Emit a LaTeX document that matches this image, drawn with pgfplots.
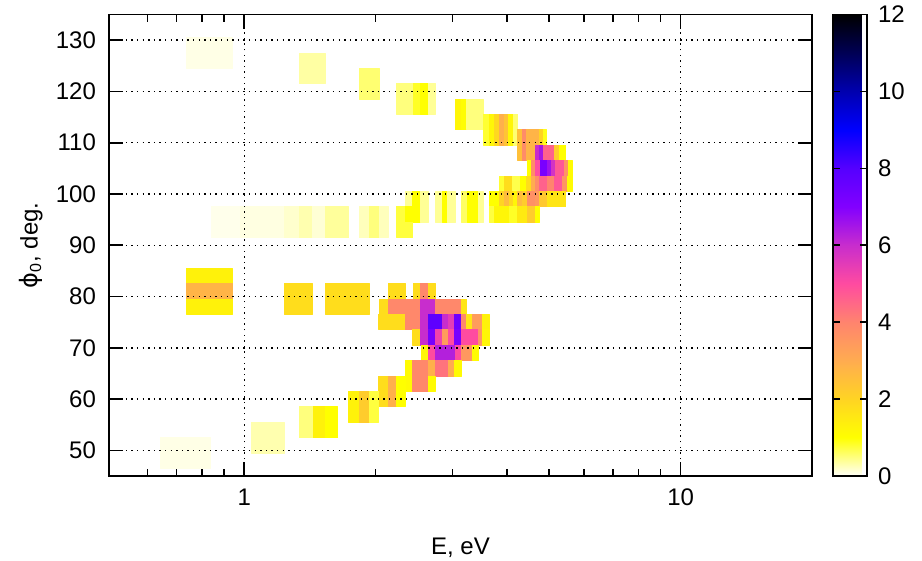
\documentclass[border=0pt]{standalone}
\usepackage{pgfplots}
\pgfplotsset{compat=1.18}
\usepgfplotslibrary{patchplots}
\usepackage{fontspec}
\setmainfont{Liberation Sans}
\newfontfamily\dejavu{DejaVu Sans}
\pgfplotsset{
  every axis/.append style={font=\fontsize{12}{14}\selectfont},
  /pgf/number format/assume math mode=true,
}
\begin{document}
\begin{tikzpicture}
\useasboundingbox (-54.5pt,-42.5pt) rectangle (406.5pt,238pt);
\begin{axis}[
  at={(0,0)}, anchor=south west,
  scale only axis, width=351.5pt, height=230.75pt,
  xmode=log, xmin=0.49, xmax=20, ymin=45, ymax=135,
  enlargelimits=false,
  xtick={1,10}, xticklabels={1,10},
  minor xtick={0.6,0.7,0.8,0.9,2,3,4,5,6,7,8,9},
  ytick={50,60,...,130},
  tick align=inside,
  xtick pos=both, ytick pos=both,
  xticklabel pos=bottom, yticklabel pos=left,
  major tick length=7pt, minor tick length=3.5pt,
  tick style={black, line width=0.8pt},
  axis line style={line width=0.8pt},
  xmajorgrids, ymajorgrids,
  grid style={black, line width=0.7pt, dash pattern=on 0.7pt off 2.1pt},
  axis on top,
  yticklabel style={xshift=-3pt},
  xticklabel style={yshift=-3pt},
  xlabel={E, eV},
  ylabel={{\dejavu ϕ}\textsubscript{0}, deg.},
  xlabel style={at={(axis description cs:0.5,-0.156)}, anchor=center},
  ylabel style={at={(axis description cs:-0.111,0.5)}, anchor=center},
  colormap={gp}{rgb255(0)=(255,255,250) rgb255(1)=(255,255,0) rgb255(2)=(255,212,35) rgb255(3)=(255,172,80) rgb255(4)=(255,132,110) rgb255(5)=(255,75,160) rgb255(6)=(200,45,205) rgb255(7)=(130,0,255) rgb255(8)=(85,0,255) rgb255(9)=(0,0,255) rgb255(10)=(0,0,175) rgb255(11)=(0,0,85) rgb255(12)=(0,0,0)},
  point meta min=0, point meta max=12,
  colorbar,
  colorbar style={
    at={(parent axis.north east)}, anchor=north west, xshift=2pt,
    scale only axis, width=17pt, height=230.75pt,
    ytick={0,2,...,12},
    ytick pos=both, yticklabel pos=right,
    tick align=inside,
    major tick length=3.5pt,
    tick style={black, line width=0.8pt},
    axis line style={line width=0.8pt},
    yticklabel style={xshift=2pt},
  },
]
\addplot[patch, patch type=rectangle, shader=flat, point meta=explicit]
table[meta=c, row sep=\\] {
x y c\\
0.7388 124.5 0.08\\0.9386 124.5 0.08\\0.9386 130.5 0.08\\0.7388 130.5 0.08\\
1.3369 121.5 0.35\\1.5339 121.5 0.35\\1.5339 127.5 0.35\\1.3369 127.5 0.35\\
1.8355 118.5 0.55\\2.0368 118.5 0.55\\2.0368 124.5 0.55\\1.8355 124.5 0.55\\
2.2356 115.5 0.5\\2.4414 115.5 0.5\\2.4414 121.5 0.5\\2.2356 121.5 0.5\\
2.4414 115.5 0.85\\2.5333 115.5 0.85\\2.5333 121.5 0.85\\2.4414 121.5 0.85\\
2.5333 115.5 1.0\\2.6424 115.5 1.0\\2.6424 121.5 1.0\\2.5333 121.5 1.0\\
2.6424 115.5 0.4\\2.7375 115.5 0.4\\2.7375 121.5 0.4\\2.6424 121.5 0.4\\
3.0427 112.5 1.2\\3.1505 112.5 1.2\\3.1505 118.5 1.2\\3.0427 118.5 1.2\\
3.1505 112.5 1.05\\3.2349 112.5 1.05\\3.2349 118.5 1.05\\3.1505 118.5 1.05\\
3.2349 112.5 0.5\\3.5343 112.5 0.5\\3.5343 118.5 0.5\\3.2349 118.5 0.5\\
3.5343 109.5 0.8\\3.6481 109.5 0.8\\3.6481 115.5 0.8\\3.5343 115.5 0.8\\
3.6481 109.5 1.2\\3.7457 109.5 1.2\\3.7457 115.5 1.2\\3.6481 115.5 1.2\\
3.7457 109.5 1.9\\3.8460 109.5 1.9\\3.8460 115.5 1.9\\3.7457 115.5 1.9\\
3.8460 109.5 2.9\\3.9489 109.5 2.9\\3.9489 115.5 2.9\\3.8460 115.5 2.9\\
3.9489 109.5 2.4\\4.0332 109.5 2.4\\4.0332 115.5 2.4\\3.9489 115.5 2.4\\
4.0332 109.5 1.2\\4.1477 109.5 1.2\\4.1477 115.5 1.2\\4.0332 115.5 1.2\\
4.1477 109.5 0.55\\4.2363 109.5 0.55\\4.2363 115.5 0.55\\4.1477 115.5 0.55\\
4.2363 106.5 2.5\\4.3495 106.5 2.5\\4.3495 112.5 2.5\\4.2363 112.5 2.5\\
4.3495 106.5 3.8\\4.4423 106.5 3.8\\4.4423 112.5 3.8\\4.3495 112.5 3.8\\
4.4423 106.5 2.8\\4.6513 106.5 2.8\\4.6513 112.5 2.8\\4.4423 112.5 2.8\\
4.6513 109.5 2.8\\4.7506 109.5 2.8\\4.7506 112.5 2.8\\4.6513 112.5 2.8\\
4.7506 109.5 2.0\\4.8522 109.5 2.0\\4.8522 112.5 2.0\\4.7506 112.5 2.0\\
4.8522 109.5 0.9\\4.9375 109.5 0.9\\4.9375 112.5 0.9\\4.8522 112.5 0.9\\
4.6513 106.5 6.0\\4.7506 106.5 6.0\\4.7506 109.5 6.0\\4.6513 109.5 6.0\\
4.7506 106.5 6.5\\4.8522 106.5 6.5\\4.8522 109.5 6.5\\4.7506 109.5 6.5\\
4.8522 106.5 4.6\\5.1423 106.5 4.6\\5.1423 109.5 4.6\\4.8522 109.5 4.6\\
5.1423 106.5 2.2\\5.2800 106.5 2.2\\5.2800 109.5 2.2\\5.1423 109.5 2.2\\
5.2800 106.5 1.0\\5.4501 106.5 1.0\\5.4501 109.5 1.0\\5.2800 109.5 1.0\\
4.4470 103.5 1.0\\4.5469 103.5 1.0\\4.5469 106.5 1.0\\4.4470 106.5 1.0\\
4.5469 103.5 3.8\\4.6513 103.5 3.8\\4.6513 106.5 3.8\\4.5469 106.5 3.8\\
4.6513 103.5 5.0\\4.7758 103.5 5.0\\4.7758 106.5 5.0\\4.6513 106.5 5.0\\
4.7758 103.5 7.2\\4.9558 103.5 7.2\\4.9558 106.5 7.2\\4.7758 106.5 7.2\\
4.9558 103.5 6.6\\5.0614 103.5 6.6\\5.0614 106.5 6.6\\4.9558 106.5 6.6\\
5.0614 103.5 5.8\\5.1695 103.5 5.8\\5.1695 106.5 5.8\\5.0614 106.5 5.8\\
5.1695 103.5 4.8\\5.4213 103.5 4.8\\5.4213 106.5 4.8\\5.1695 106.5 4.8\\
5.4213 103.5 3.6\\5.5372 103.5 3.6\\5.5372 106.5 3.6\\5.4213 106.5 3.6\\
5.5372 103.5 1.1\\5.6553 103.5 1.1\\5.6553 106.5 1.1\\5.5372 106.5 1.1\\
3.8460 100.5 0.8\\3.9489 100.5 0.8\\3.9489 103.5 0.8\\3.8460 103.5 0.8\\
3.9489 100.5 1.8\\4.1194 100.5 1.8\\4.1194 103.5 1.8\\3.9489 103.5 1.8\\
4.1194 100.5 0.7\\4.2970 100.5 0.7\\4.2970 103.5 0.7\\4.1194 103.5 0.7\\
4.2970 100.5 1.0\\4.4353 100.5 1.0\\4.4353 103.5 1.0\\4.2970 103.5 1.0\\
4.4353 100.5 1.8\\4.5542 100.5 1.8\\4.5542 103.5 1.8\\4.4353 103.5 1.8\\
4.5542 100.5 3.0\\4.6513 100.5 3.0\\4.6513 103.5 3.0\\4.5542 103.5 3.0\\
4.6513 100.5 3.8\\4.7506 100.5 3.8\\4.7506 103.5 3.8\\4.6513 103.5 3.8\\
4.7506 100.5 4.6\\4.9558 100.5 4.6\\4.9558 103.5 4.6\\4.7506 103.5 4.6\\
4.9558 100.5 4.0\\5.1423 100.5 4.0\\5.1423 103.5 4.0\\4.9558 103.5 4.0\\
5.1423 100.5 4.8\\5.3644 100.5 4.8\\5.3644 103.5 4.8\\5.1423 103.5 4.8\\
5.3644 100.5 3.6\\5.5080 100.5 3.6\\5.5080 103.5 3.6\\5.3644 103.5 3.6\\
5.5080 100.5 1.1\\5.6553 100.5 1.1\\5.6553 103.5 1.1\\5.5080 103.5 1.1\\
2.3370 97.5 0.4\\2.4324 97.5 0.4\\2.4324 100.5 0.4\\2.3370 100.5 0.4\\
2.4324 94.5 1.0\\2.5293 94.5 1.0\\2.5293 100.5 1.0\\2.4324 100.5 1.0\\
2.5293 94.5 0.4\\2.6424 94.5 0.4\\2.6424 100.5 0.4\\2.5293 100.5 0.4\\
2.7375 94.5 0.4\\2.8405 94.5 0.4\\2.8405 100.5 0.4\\2.7375 100.5 0.4\\
2.8405 94.5 1.0\\2.9258 94.5 1.0\\2.9258 100.5 1.0\\2.8405 100.5 1.0\\
2.9258 94.5 0.4\\3.0427 94.5 0.4\\3.0427 100.5 0.4\\2.9258 100.5 0.4\\
3.1505 94.5 0.6\\3.2418 94.5 0.6\\3.2418 100.5 0.6\\3.1505 100.5 0.6\\
3.2418 94.5 1.0\\3.4422 94.5 1.0\\3.4422 100.5 1.0\\3.2418 100.5 1.0\\
3.4422 94.5 0.4\\3.5343 94.5 0.4\\3.5343 100.5 0.4\\3.4422 100.5 0.4\\
3.6481 97.5 1.0\\3.8460 97.5 1.0\\3.8460 100.5 1.0\\3.6481 100.5 1.0\\
3.8460 97.5 2.0\\3.9489 97.5 2.0\\3.9489 100.5 2.0\\3.8460 100.5 2.0\\
3.9489 97.5 2.6\\4.0546 97.5 2.6\\4.0546 100.5 2.6\\3.9489 100.5 2.6\\
4.0546 97.5 1.9\\4.1412 97.5 1.9\\4.1412 100.5 1.9\\4.0546 100.5 1.9\\
4.1412 97.5 1.2\\4.2296 97.5 1.2\\4.2296 100.5 1.2\\4.1412 100.5 1.2\\
4.2296 97.5 2.6\\4.3426 97.5 2.6\\4.3426 100.5 2.6\\4.2296 100.5 2.6\\
4.3426 97.5 2.2\\4.4587 97.5 2.2\\4.4587 100.5 2.2\\4.3426 100.5 2.2\\
4.4587 97.5 3.7\\4.6513 97.5 3.7\\4.6513 100.5 3.7\\4.4587 100.5 3.7\\
4.6513 97.5 3.5\\4.7506 97.5 3.5\\4.7506 100.5 3.5\\4.6513 100.5 3.5\\
4.7506 97.5 2.3\\4.9558 97.5 2.3\\4.9558 100.5 2.3\\4.7506 100.5 2.3\\
4.9558 97.5 1.6\\5.4501 97.5 1.6\\5.4501 100.5 1.6\\4.9558 100.5 1.6\\
3.6481 94.5 0.75\\3.7457 94.5 0.75\\3.7457 97.5 0.75\\3.6481 97.5 0.75\\
3.7457 94.5 1.2\\4.0546 94.5 1.2\\4.0546 97.5 1.2\\3.7457 97.5 1.2\\
4.0546 94.5 0.85\\4.2296 94.5 0.85\\4.2296 97.5 0.85\\4.0546 97.5 0.85\\
4.2296 94.5 1.5\\4.4587 94.5 1.5\\4.4587 97.5 1.5\\4.2296 97.5 1.5\\
4.4587 94.5 2.2\\4.6513 94.5 2.2\\4.6513 97.5 2.2\\4.4587 97.5 2.2\\
4.6513 94.5 1.0\\4.7506 94.5 1.0\\4.7506 97.5 1.0\\4.6513 97.5 1.0\\
0.8414 91.5 0.06\\0.9827 91.5 0.06\\0.9827 97.5 0.06\\0.8414 97.5 0.06\\
0.9827 91.5 0.1\\1.2354 91.5 0.1\\1.2354 97.5 0.1\\0.9827 97.5 0.1\\
1.2354 91.5 0.18\\1.3369 91.5 0.18\\1.3369 97.5 0.18\\1.2354 97.5 0.18\\
1.3369 91.5 0.3\\1.4344 91.5 0.3\\1.4344 97.5 0.3\\1.3369 97.5 0.3\\
1.4344 91.5 0.15\\1.5339 91.5 0.15\\1.5339 97.5 0.15\\1.4344 97.5 0.15\\
1.5339 91.5 0.38\\1.7349 91.5 0.38\\1.7349 97.5 0.38\\1.5339 97.5 0.38\\
1.8355 91.5 0.25\\1.9350 91.5 0.25\\1.9350 97.5 0.25\\1.8355 97.5 0.25\\
1.9350 91.5 0.5\\2.0400 91.5 0.5\\2.0400 97.5 0.5\\1.9350 97.5 0.5\\
2.0400 91.5 0.25\\2.1391 91.5 0.25\\2.1391 97.5 0.25\\2.0400 97.5 0.25\\
2.2356 91.5 0.75\\2.3370 91.5 0.75\\2.3370 97.5 0.75\\2.2356 97.5 0.75\\
2.3370 94.5 1.0\\2.4324 94.5 1.0\\2.4324 97.5 1.0\\2.3370 97.5 1.0\\
2.3370 91.5 0.75\\2.4324 91.5 0.75\\2.4324 94.5 0.75\\2.3370 94.5 0.75\\
0.7388 82.5 1.3\\0.9386 82.5 1.3\\0.9386 85.5 1.3\\0.7388 85.5 1.3\\
0.7388 79.5 2.8\\0.9386 79.5 2.8\\0.9386 82.5 2.8\\0.7388 82.5 2.8\\
0.7388 76.5 1.3\\0.9386 76.5 1.3\\0.9386 79.5 1.3\\0.7388 79.5 1.3\\
1.2354 76.5 1.8\\1.4344 76.5 1.8\\1.4344 82.5 1.8\\1.2354 82.5 1.8\\
1.5339 76.5 1.8\\1.9350 76.5 1.8\\1.9350 82.5 1.8\\1.5339 82.5 1.8\\
2.1425 79.5 1.8\\2.3407 79.5 1.8\\2.3407 82.5 1.8\\2.1425 82.5 1.8\\
2.4414 79.5 1.8\\2.5333 79.5 1.8\\2.5333 82.5 1.8\\2.4414 82.5 1.8\\
2.5333 79.5 3.9\\2.6424 79.5 3.9\\2.6424 82.5 3.9\\2.5333 82.5 3.9\\
2.6424 79.5 1.8\\2.7375 79.5 1.8\\2.7375 82.5 1.8\\2.6424 82.5 1.8\\
2.0400 76.5 1.8\\2.1425 76.5 1.8\\2.1425 79.5 1.8\\2.0400 79.5 1.8\\
2.1425 76.5 3.9\\2.5333 76.5 3.9\\2.5333 79.5 3.9\\2.1425 79.5 3.9\\
2.5333 76.5 6.0\\2.7375 76.5 6.0\\2.7375 79.5 6.0\\2.5333 79.5 6.0\\
2.7375 76.5 3.9\\3.1406 76.5 3.9\\3.1406 79.5 3.9\\2.7375 79.5 3.9\\
3.1406 76.5 1.6\\3.2349 76.5 1.6\\3.2349 79.5 1.6\\3.1406 79.5 1.6\\
2.0325 73.5 1.8\\2.3407 73.5 1.8\\2.3407 76.5 1.8\\2.0325 76.5 1.8\\
2.3407 73.5 3.9\\2.5333 73.5 3.9\\2.5333 76.5 3.9\\2.3407 76.5 3.9\\
2.5333 73.5 6.0\\2.6466 73.5 6.0\\2.6466 76.5 6.0\\2.5333 76.5 6.0\\
2.6466 73.5 7.8\\2.8405 73.5 7.8\\2.8405 76.5 7.8\\2.6466 76.5 7.8\\
2.8405 73.5 6.0\\2.9414 73.5 6.0\\2.9414 76.5 6.0\\2.8405 76.5 6.0\\
2.9414 73.5 5.5\\3.0363 73.5 5.5\\3.0363 76.5 5.5\\2.9414 76.5 5.5\\
3.0363 73.5 7.4\\3.1406 73.5 7.4\\3.1406 76.5 7.4\\3.0363 76.5 7.4\\
3.1406 73.5 3.9\\3.2349 73.5 3.9\\3.2349 76.5 3.9\\3.1406 76.5 3.9\\
3.2349 73.5 1.6\\3.3297 73.5 1.6\\3.3297 76.5 1.6\\3.2349 76.5 1.6\\
3.3297 73.5 3.4\\3.5212 73.5 3.4\\3.5212 76.5 3.4\\3.3297 76.5 3.4\\
3.5212 73.5 1.3\\3.6481 73.5 1.3\\3.6481 76.5 1.3\\3.5212 76.5 1.3\\
2.4324 70.5 1.8\\2.5333 70.5 1.8\\2.5333 73.5 1.8\\2.4324 73.5 1.8\\
2.5333 70.5 6.0\\2.6466 70.5 6.0\\2.6466 73.5 6.0\\2.5333 73.5 6.0\\
2.6466 70.5 7.3\\2.7375 70.5 7.3\\2.7375 73.5 7.3\\2.6466 73.5 7.3\\
2.7375 70.5 5.3\\2.8405 70.5 5.3\\2.8405 73.5 5.3\\2.7375 73.5 5.3\\
2.8405 70.5 3.4\\2.9414 70.5 3.4\\2.9414 73.5 3.4\\2.8405 73.5 3.4\\
2.9414 70.5 5.0\\3.0363 70.5 5.0\\3.0363 73.5 5.0\\2.9414 73.5 5.0\\
3.0363 70.5 7.2\\3.1406 70.5 7.2\\3.1406 73.5 7.2\\3.0363 73.5 7.2\\
3.1406 70.5 5.0\\3.4422 70.5 5.0\\3.4422 73.5 5.0\\3.1406 73.5 5.0\\
3.4422 70.5 3.6\\3.5212 70.5 3.6\\3.5212 73.5 3.6\\3.4422 73.5 3.6\\
3.5212 70.5 1.2\\3.6481 70.5 1.2\\3.6481 73.5 1.2\\3.5212 73.5 1.2\\
2.5427 67.5 1.2\\2.6466 67.5 1.2\\2.6466 70.5 1.2\\2.5427 70.5 1.2\\
2.6466 67.5 5.0\\2.7375 67.5 5.0\\2.7375 70.5 5.0\\2.6466 70.5 5.0\\
2.7375 67.5 6.3\\3.0427 67.5 6.3\\3.0427 70.5 6.3\\2.7375 70.5 6.3\\
3.0427 67.5 5.0\\3.1406 67.5 5.0\\3.1406 70.5 5.0\\3.0427 70.5 5.0\\
3.1406 67.5 3.5\\3.3402 67.5 3.5\\3.3402 70.5 3.5\\3.1406 70.5 3.5\\
3.3402 67.5 1.1\\3.4422 67.5 1.1\\3.4422 70.5 1.1\\3.3402 70.5 1.1\\
2.3407 61.5 1.1\\2.4324 61.5 1.1\\2.4324 67.5 1.1\\2.3407 67.5 1.1\\
2.4324 61.5 3.9\\2.6466 61.5 3.9\\2.6466 67.5 3.9\\2.4324 67.5 3.9\\
2.6466 64.5 2.9\\2.7375 64.5 2.9\\2.7375 67.5 2.9\\2.6466 67.5 2.9\\
2.7375 64.5 4.3\\2.9414 64.5 4.3\\2.9414 67.5 4.3\\2.7375 67.5 4.3\\
2.9414 64.5 3.0\\3.0363 64.5 3.0\\3.0363 67.5 3.0\\2.9414 67.5 3.0\\
3.0363 64.5 1.1\\3.1406 64.5 1.1\\3.1406 67.5 1.1\\3.0363 67.5 1.1\\
2.6466 61.5 1.1\\2.7375 61.5 1.1\\2.7375 64.5 1.1\\2.6466 64.5 1.1\\
2.0325 58.5 1.8\\2.1425 58.5 1.8\\2.1425 64.5 1.8\\2.0325 64.5 1.8\\
2.1425 58.5 2.9\\2.2356 58.5 2.9\\2.2356 64.5 2.9\\2.1425 64.5 2.9\\
2.2356 58.5 1.0\\2.3407 58.5 1.0\\2.3407 64.5 1.0\\2.2356 64.5 1.0\\
1.7349 55.5 1.3\\1.8355 55.5 1.3\\1.8355 61.5 1.3\\1.7349 61.5 1.3\\
1.8355 55.5 2.2\\1.9350 55.5 2.2\\1.9350 61.5 2.2\\1.8355 61.5 2.2\\
1.9350 55.5 0.75\\2.0325 55.5 0.75\\2.0325 61.5 0.75\\1.9350 61.5 0.75\\
1.3369 52.5 0.5\\1.4397 52.5 0.5\\1.4397 58.5 0.5\\1.3369 58.5 0.5\\
1.4397 52.5 1.3\\1.5339 52.5 1.3\\1.5339 58.5 1.3\\1.4397 58.5 1.3\\
1.5339 52.5 1.0\\1.6365 52.5 1.0\\1.6365 58.5 1.0\\1.5339 58.5 1.0\\
1.0360 49.5 0.3\\1.2354 49.5 0.3\\1.2354 55.5 0.3\\1.0360 55.5 0.3\\
0.6416 46.5 0.08\\0.8387 46.5 0.08\\0.8387 52.5 0.08\\0.6416 52.5 0.08\\
};
\end{axis}
\end{tikzpicture}
\end{document}
